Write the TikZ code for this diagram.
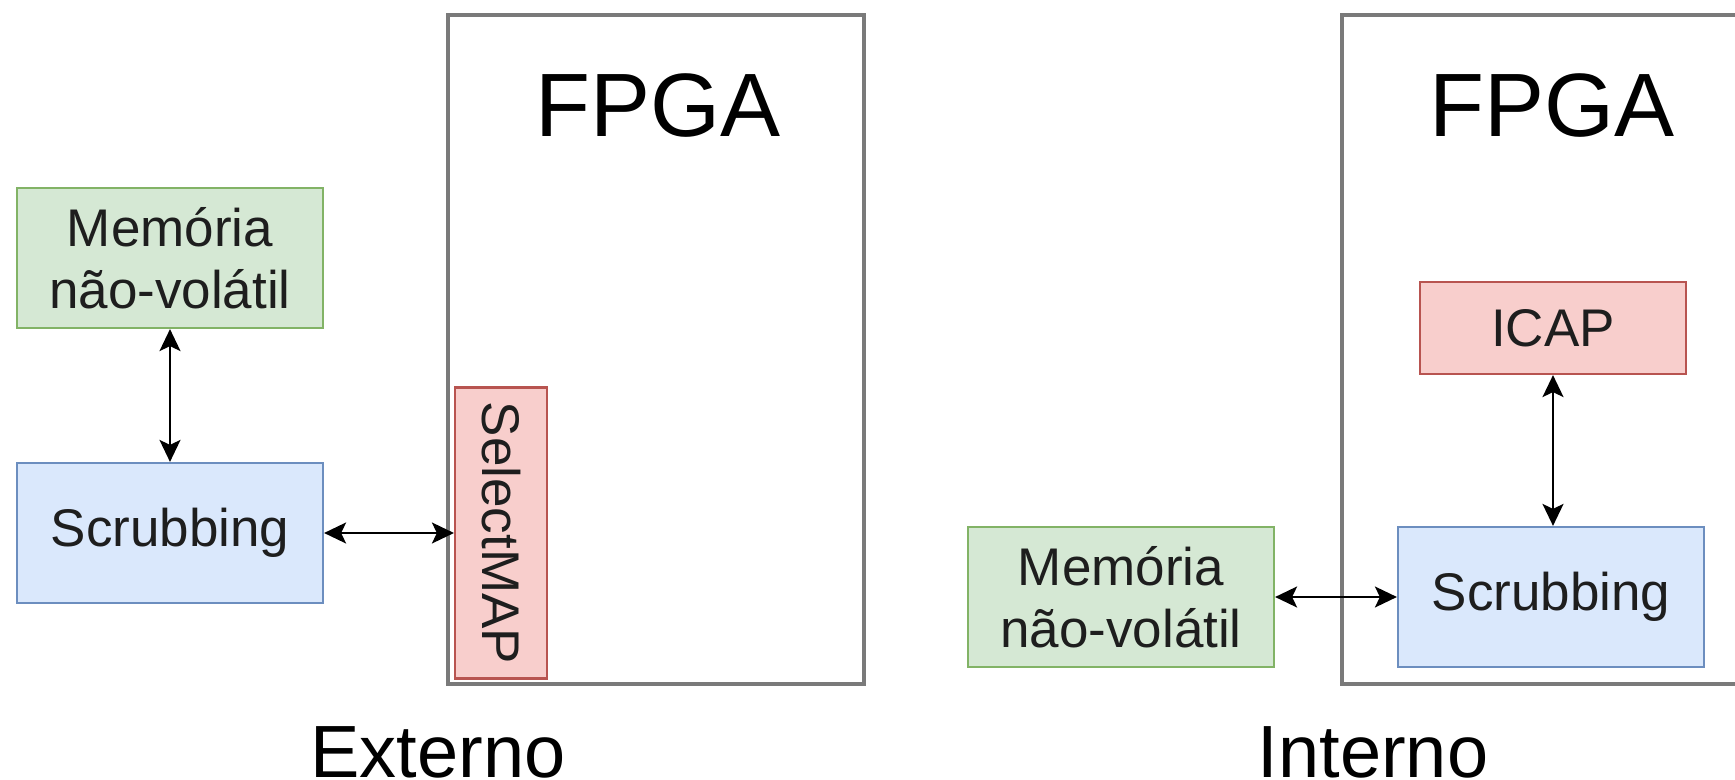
\documentclass[tikz,border=0pt]{standalone}
\usepackage{fontspec}
\setmainfont{Liberation Sans}
\usetikzlibrary{arrows.meta}
\definecolor{gfill}{HTML}{D5E8D4}\definecolor{gdraw}{HTML}{82B366}
\definecolor{bfill}{HTML}{DAE8FC}\definecolor{bdraw}{HTML}{6C8EBF}
\definecolor{rfill}{HTML}{F8CECC}\definecolor{rdraw}{HTML}{B85450}
\definecolor{fpgac}{HTML}{7A7A7A}\definecolor{txt}{HTML}{1E1E1E}
\begin{document}
\begin{tikzpicture}[x=0.5pt,y=-0.5pt,
  box/.style={rectangle,inner sep=0pt,line width=1.1pt,text=txt,align=center,
    font=\fontsize{26.5pt}{31pt}\selectfont},
  membox/.style={box,fill=gfill,draw=gdraw,minimum width=153pt,minimum height=70pt},
  scrbox/.style={box,fill=bfill,draw=bdraw,minimum width=153pt,minimum height=70pt},
  redbox/.style={box,fill=rfill,draw=rdraw},
  fpgabox/.style={rectangle,draw=fpgac,line width=2pt,minimum width=208pt,minimum height=334.5pt,inner sep=0pt},
  title/.style={font=\fontsize{45pt}{54pt}\selectfont,text=black,anchor=base,inner sep=0pt},
  caption/.style={font=\fontsize{37pt}{44pt}\selectfont,text=black,anchor=base,inner sep=0pt},
  arr/.style={line width=1pt,black,{Stealth[length=11pt,width=10.5pt,inset=2.5pt]}-{Stealth[length=11pt,width=10.5pt,inset=2.5pt]}}]
\useasboundingbox (0,0) rectangle (1735,780);
% left: Externo
\node[fpgabox] (fpgaL) at (656,349.5) {};
\node[title] (fpgaLt) at (658,137) {FPGA};
\node[membox] (memL) at (170,258) {Memória\\não-volátil};
\node[scrbox] (scrL) at (170,533) {Scrubbing};
\node[redbox,rotate=-90,minimum width=145.5pt,minimum height=46pt] (sel) at (501,533) {SelectMAP};
\node[caption] (ext) at (438,777) {Externo};
\draw[arr] (memL.south) -- (scrL.north);
\draw[arr] (scrL) -- (sel);
% right: Interno
\node[fpgabox] (fpgaR) at (1550,349.5) {};
\node[title] (fpgaRt) at (1552,137) {FPGA};
\node[redbox,minimum width=133pt,minimum height=46pt] (icap) at (1553,328) {ICAP};
\node[scrbox] (scrR) at (1551,597) {Scrubbing};
\node[membox] (memR) at (1121,597) {Memória\\não-volátil};
\node[caption] (int) at (1373,777) {Interno};
\draw[arr] (memR) -- (scrR);
\draw[arr] (icap.south) -- (icap.south |- scrR.north);
\end{tikzpicture}
\end{document}
